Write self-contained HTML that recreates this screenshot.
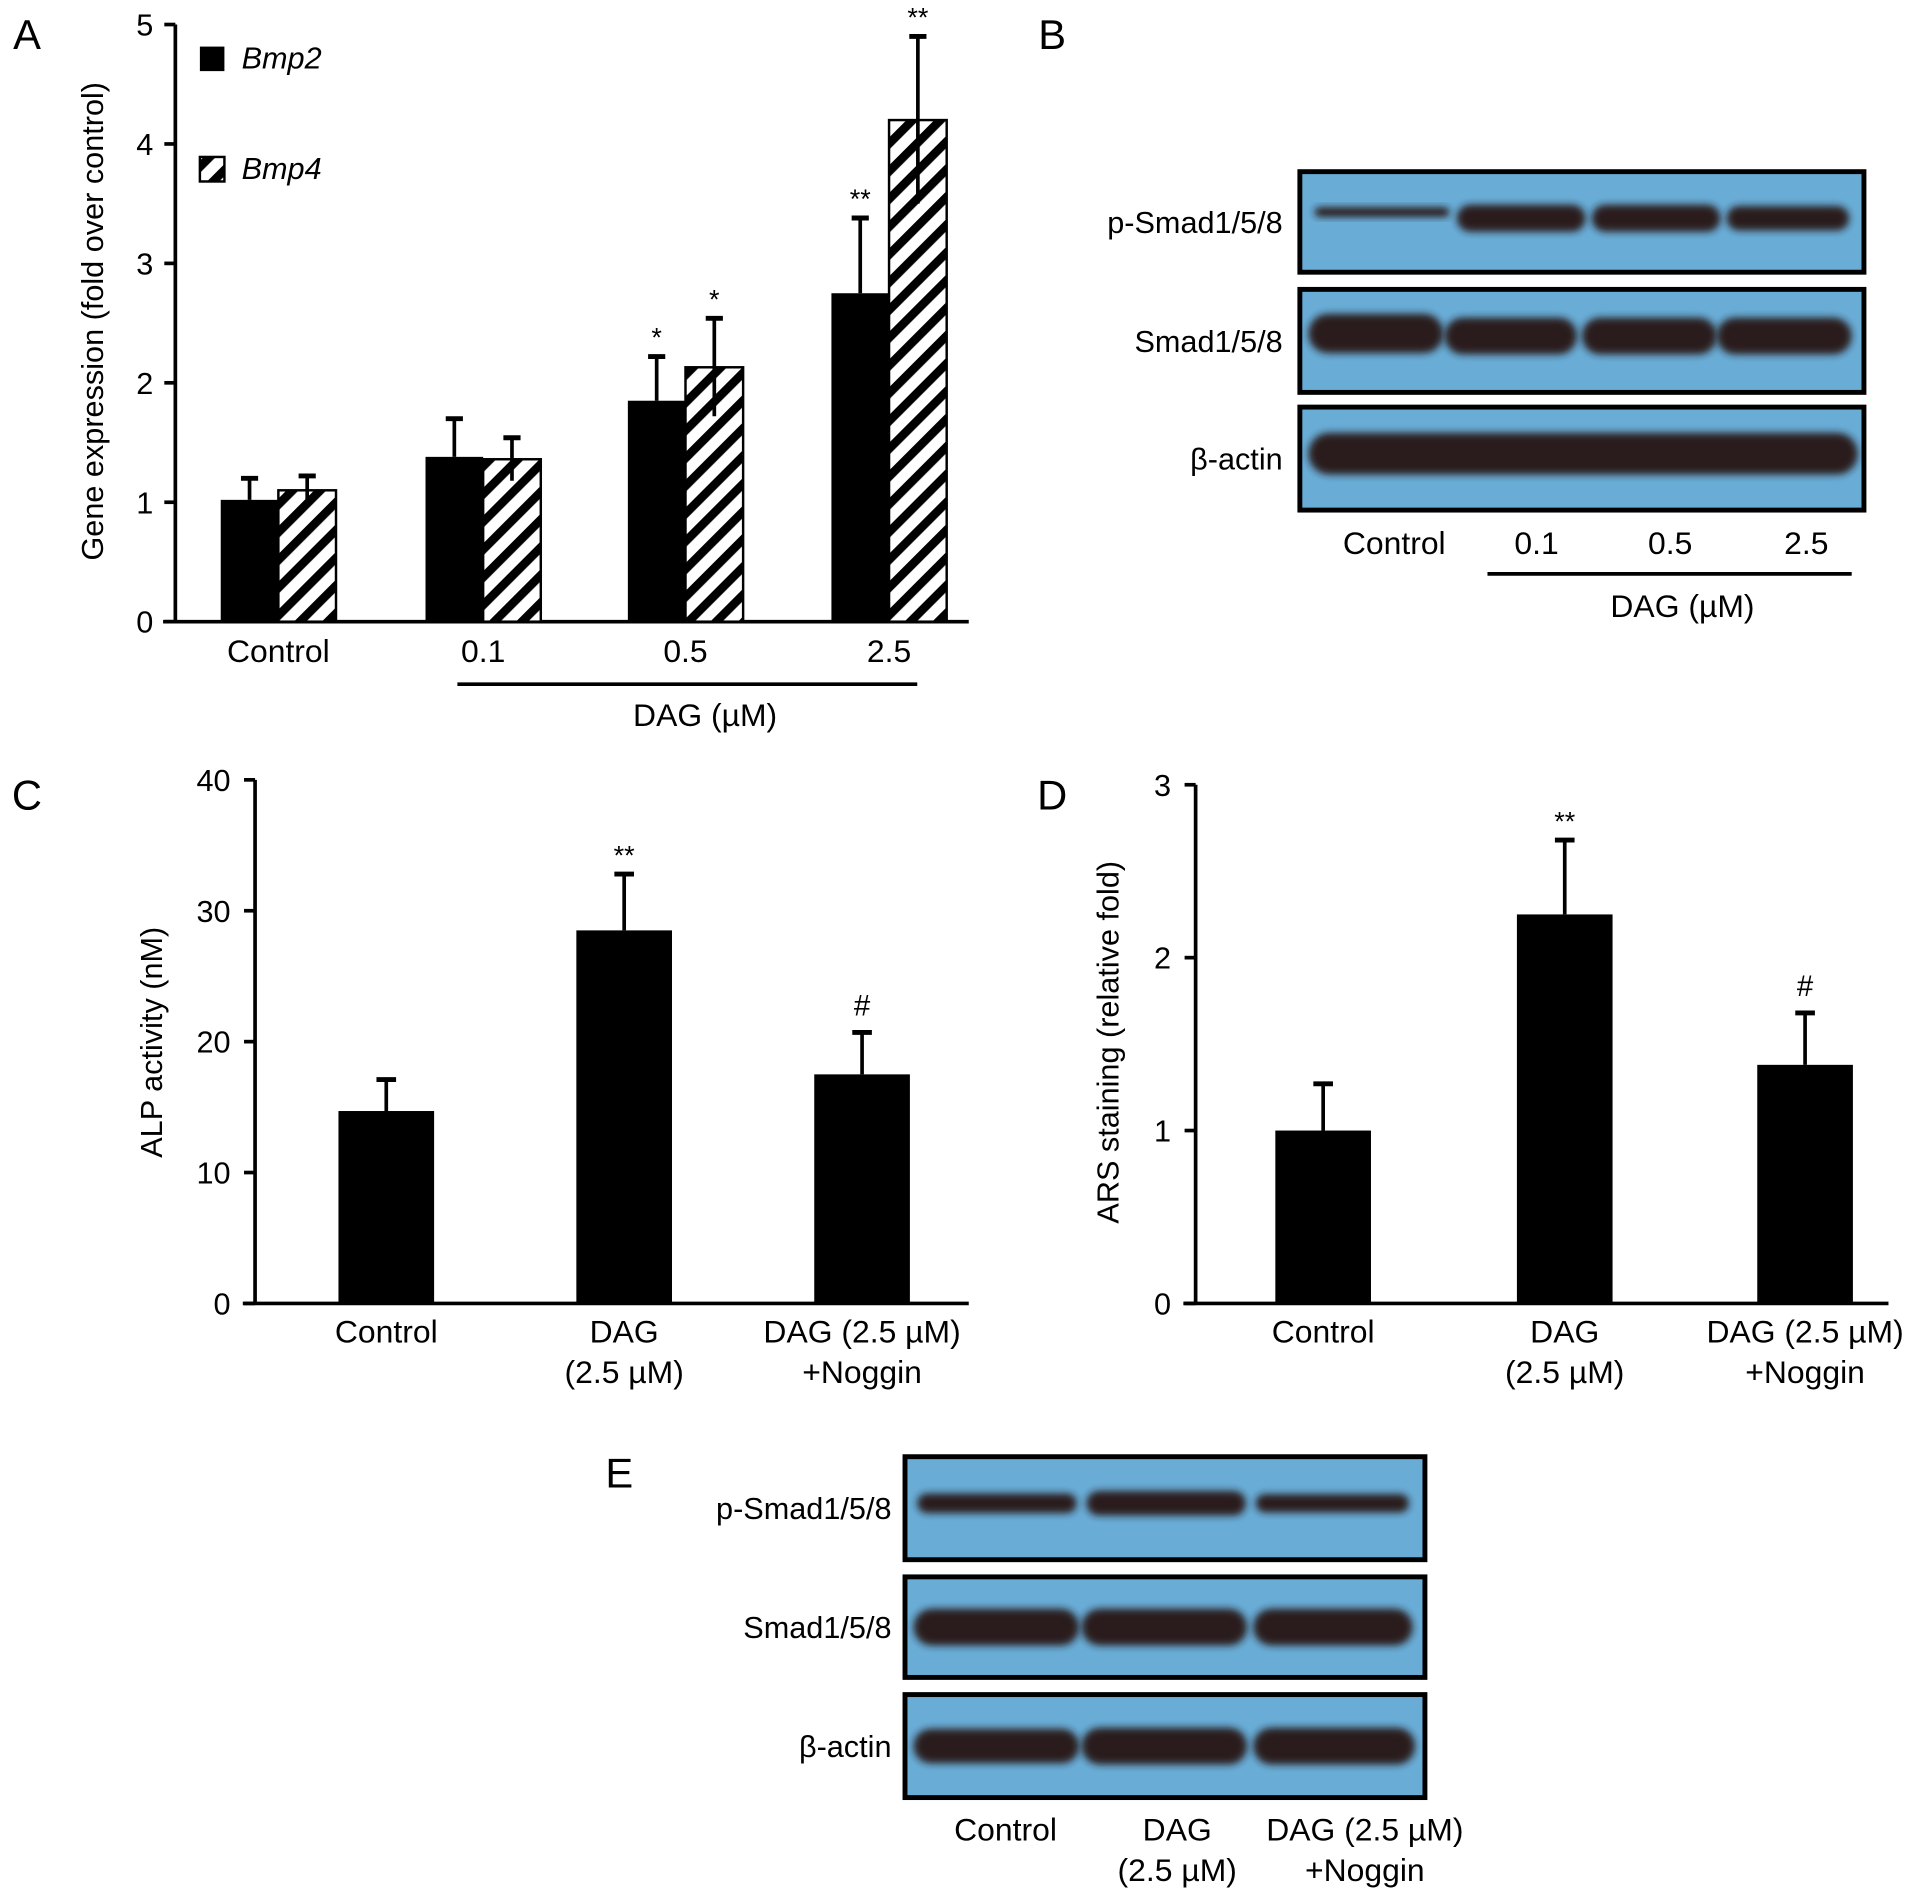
<!DOCTYPE html>
<html><head><meta charset="utf-8"><style>
html,body{margin:0;padding:0;background:#fff;}
svg{display:block;font-family:"Liberation Sans",sans-serif;}
</style></head><body>
<svg id="fig" width="1913" height="1892" viewBox="0 0 1560 1543" preserveAspectRatio="none" xmlns="http://www.w3.org/2000/svg">
<defs>
<pattern id="hatch" patternUnits="userSpaceOnUse" width="16" height="16" patternTransform="rotate(45)">
<rect width="16" height="16" fill="#fff"/><rect width="7" height="16" fill="#000"/>
</pattern>
<filter id="blur" x="-10%" y="-50%" width="120%" height="200%"><feGaussianBlur stdDeviation="3"/></filter>
</defs>
<g id="root"></g>
</svg>
<script>
// Panel A data
const aCategories = ["Control","0.1","0.5","2.5"];
const aBmp2 = [1.02,1.38,1.85,2.75];
const aBmp2Err = [0.18,0.32,0.37,0.63];
const aBmp4 = [1.1,1.36,2.13,4.2];
const aBmp4Err = [0.12,0.18,0.41,0.7];
const aSig2 = ["","","*","**"];
const aSig4 = ["","","*","**"];
const aTicks = [0,1,2,3,4,5];
// Panel C data
const cCategories = [["Control"],["DAG","(2.5 µM)"],["DAG (2.5 µM)","+Noggin"]];
const cValues = [14.7,28.5,17.5];
const cErr = [2.4,4.3,3.2];
const cSig = ["","**","#"];
const cTicks = [0,10,20,30,40];
// Panel D data
const dValues = [1.0,2.25,1.38];
const dErr = [0.27,0.43,0.3];
const dSig = ["","**","#"];
const dTicks = [0,1,2,3];

const NS="http://www.w3.org/2000/svg";
const root=document.getElementById('root');
function el(tag,attrs,parent,text){const e=document.createElementNS(NS,tag);for(const k in attrs)e.setAttribute(k,attrs[k]);if(text!==undefined)e.textContent=text;(parent||root).appendChild(e);return e;}

function panelLabel(t,x,y){const e=el('text',{x:x,y:y,'font-size':34,'text-anchor':'middle'},root,t);

}

// ---------- Panel A ----------
panelLabel('A',22,40);
(function(){
 const g=el('g',{});
 
 
 const x0=143,xEnd=790,yZero=507,yTop=20,max=5;
 const y=v=>yZero-(v/max)*(yZero-yTop);
 const groupLeft=[180,347,512,678], bw=47;
 const gx=i=>groupLeft[i];
 el('line',{x1:x0,y1:yTop,x2:x0,y2:yZero+1,stroke:'#000','stroke-width':3},g);
 el('line',{x1:x0-10,y1:yZero,x2:xEnd,y2:yZero,stroke:'#000','stroke-width':3},g);
 aTicks.forEach(t=>{el('line',{x1:x0-9,y1:y(t),x2:x0,y2:y(t),stroke:'#000','stroke-width':3},g);
  const tt=el('text',{x:x0-18,y:y(t)+9,'font-size':25,'text-anchor':'end'},g,String(t));
  
  });
 aCategories.forEach((c,i)=>{
  const bx=gx(i);
  const b1=el('rect',{x:bx,y:y(aBmp2[i]),width:bw,height:yZero-y(aBmp2[i]),fill:'#000'},g);
  
  
  const b2=el('rect',{x:bx+bw,y:y(aBmp4[i]),width:bw,height:yZero-y(aBmp4[i]),fill:'url(#hatch)',stroke:'#000','stroke-width':2},g);
  
  
  const ex1=bx+bw/2, ex2=bx+bw*1.5;
  el('line',{x1:ex1,y1:y(aBmp2[i]),x2:ex1,y2:y(aBmp2[i]+aBmp2Err[i]),stroke:'#000','stroke-width':3},g);
  el('line',{x1:ex1-7,y1:y(aBmp2[i]+aBmp2Err[i]),x2:ex1+7,y2:y(aBmp2[i]+aBmp2Err[i]),stroke:'#000','stroke-width':4},g);
  el('line',{x1:ex2,y1:y(aBmp4[i]-aBmp4Err[i]),x2:ex2,y2:y(aBmp4[i]+aBmp4Err[i]),stroke:'#000','stroke-width':3},g);
  el('line',{x1:ex2-7,y1:y(aBmp4[i]+aBmp4Err[i]),x2:ex2+7,y2:y(aBmp4[i]+aBmp4Err[i]),stroke:'#000','stroke-width':4},g);
  if(aSig2[i]){const s=el('text',{x:ex1,y:y(aBmp2[i]+aBmp2Err[i])-8,'font-size':22,'text-anchor':'middle'},g,aSig2[i]);
   
   }
  if(aSig4[i]){const s=el('text',{x:ex2,y:y(aBmp4[i]+aBmp4Err[i])-8,'font-size':22,'text-anchor':'middle'},g,aSig4[i]);
   
   }
  const lt=el('text',{x:bx+bw,y:540,'font-size':26,'text-anchor':'middle'},g,c);
  
  
 });
 el('line',{x1:373,y1:558,x2:748,y2:558,stroke:'#000','stroke-width':3},g);
 const d=el('text',{x:575,y:592,'font-size':26,'text-anchor':'middle'},g,'DAG (µM)');
 
 
 const yt=el('text',{x:0,y:0,'font-size':25,'text-anchor':'middle',transform:'translate(84,262) rotate(-90)'},g,'Gene expression (fold over control)');
 
 
 const l1=el('rect',{x:163,y:38,width:20,height:20,fill:'#000'},g);
 
 
 const lt1=el('text',{x:197,y:56,'font-size':25,'font-style':'italic'},g,'Bmp2');
 
 
 const l2=el('rect',{x:163,y:128,width:20,height:20,fill:'url(#hatch)',stroke:'#000','stroke-width':2},g);
 
 
 const lt2=el('text',{x:197,y:146,'font-size':25,'font-style':'italic'},g,'Bmp4');
 
 
})();

// ---------- Single bar charts C & D ----------
function barChart(name,x0,xEnd,yZero,yTop,ticks,values,errs,sigs,barLefts,titleX,title){
 const g=el('g',{});
 
 
 const max=ticks[ticks.length-1];
 const y=v=>yZero-(v/max)*(yZero-yTop);
 const bw=78;
 el('line',{x1:x0,y1:yTop,x2:x0,y2:yZero+1,stroke:'#000','stroke-width':3},g);
 el('line',{x1:x0-10,y1:yZero,x2:xEnd,y2:yZero,stroke:'#000','stroke-width':3},g);
 ticks.forEach(t=>{el('line',{x1:x0-9,y1:y(t),x2:x0,y2:y(t),stroke:'#000','stroke-width':3},g);
  const tt=el('text',{x:x0-20,y:y(t)+9,'font-size':25,'text-anchor':'end'},g,String(t));
  
  });
 values.forEach((v,i)=>{
  const bx=barLefts[i];
  const b=el('rect',{x:bx,y:y(v),width:bw,height:yZero-y(v),fill:'#000'},g);
  
  
  const ex=bx+bw/2;
  el('line',{x1:ex,y1:y(v),x2:ex,y2:y(v+errs[i]),stroke:'#000','stroke-width':3},g);
  el('line',{x1:ex-8,y1:y(v+errs[i]),x2:ex+8,y2:y(v+errs[i]),stroke:'#000','stroke-width':4},g);
  if(sigs[i]){const s=el('text',{x:ex,y:y(v+errs[i])-(sigs[i]==='#'?14:8),'font-size':sigs[i]==='#'?24:22,'text-anchor':'middle'},g,sigs[i]);
   
   }
  cCategories[i].forEach((line,j)=>{const lt=el('text',{x:ex,y:1095+j*33,'font-size':26,'text-anchor':'middle'},g,line);
   
   });
 });
 const yt=el('text',{x:0,y:0,'font-size':25,'text-anchor':'middle',transform:'translate('+titleX+',850) rotate(-90)'},g,title);
 
 
}
panelLabel('C',22,660);
barChart('panel-c-chart',208,790,1063,636,cTicks,cValues,cErr,cSig,[276,470,664],132,'ALP activity (nM)');
panelLabel('D',858,660);
barChart('panel-d-chart',975,1540,1063,640,dTicks,dValues,dErr,dSig,[1040,1237,1433],912,'ARS staining (relative fold)');

// ---------- Western blots ----------
function blot(name,x,y,w,h,bands,label,labelX){
 const g=el('g',{});
 
 
 el('rect',{x:x,y:y,width:w,height:h,fill:'#69add7',stroke:'#000','stroke-width':4},g);
 bands.forEach(b=>{el('rect',{x:b[0],y:y+h/2-b[2]/2+b[3],width:b[1],height:b[2],rx:b[2]/2,fill:'#2a1b1c',filter:'url(#blur)'},g);});
 const t=el('text',{x:labelX,y:y+h/2+9,'font-size':25,'text-anchor':'end'},g,label);
 
 
}
panelLabel('B',858,40);
blot('blot-b-psmad',1060,140,460,82,[[1072,110,8,-8],[1188,105,22,-3],[1298,105,22,-3],[1408,100,20,-3]],'p-Smad1/5/8',1046);
blot('blot-b-smad',1060,236,460,84,[[1067,110,32,-6],[1178,108,30,-4],[1290,110,30,-4],[1400,110,30,-4]],'Smad1/5/8',1046);
blot('blot-b-actin',1060,332,460,84,[[1067,448,34,-4]],'β-actin',1046);
[['Control',1137],['0.1',1253],['0.5',1362],['2.5',1473]].forEach(l=>{const t=el('text',{x:l[1],y:452,'font-size':26,'text-anchor':'middle'},root,l[0]);
 
 });
el('line',{x1:1213,y1:468,x2:1510,y2:468,stroke:'#000','stroke-width':3});
{const t=el('text',{x:1372,y:503,'font-size':26,'text-anchor':'middle'},root,'DAG (µM)');
 
 }

panelLabel('E',505,1213);
blot('blot-e-psmad',738,1188,424,84,[[748,130,16,-4],[886,130,20,-4],[1024,125,15,-4]],'p-Smad1/5/8',727);
blot('blot-e-smad',738,1286,424,82,[[745,135,30,0],[882,135,30,0],[1022,130,30,0]],'Smad1/5/8',727);
blot('blot-e-actin',738,1382,424,84,[[745,135,28,0],[882,135,30,0],[1022,132,30,0]],'β-actin',727);
[[['Control'],820],[['DAG','(2.5 µM)'],960],[['DAG (2.5 µM)','+Noggin'],1113]].forEach((l,i)=>{l[0].forEach((s,j)=>{const t=el('text',{x:l[1],y:1501+j*33,'font-size':26,'text-anchor':'middle'},root,s);
 
 });});
</script>
</body></html>
